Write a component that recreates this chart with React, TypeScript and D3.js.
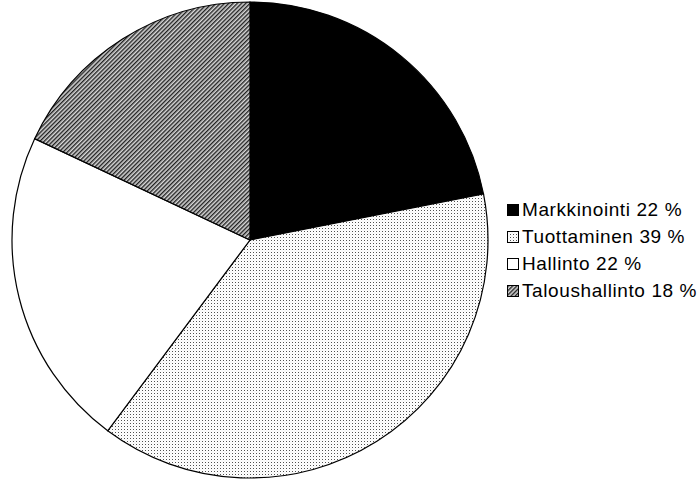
import React from "react";
import * as d3 from "d3";

const categories = ["Markkinointi", "Tuottaminen", "Hallinto", "Taloushallinto"];
const values = [21.9, 38.3, 21.8, 18.0];
const legendLabels = ["Markkinointi 22 %", "Tuottaminen 39 %", "Hallinto 22 %", "Taloushallinto 18 %"];
const fills = ["#000000", "url(#dots)", "#ffffff", "url(#hatch)"];

export default function App() {
  const width = 698;
  const height = 482;
  const cx = 250;
  const cy = 240;
  const r = 238;
  const data = categories.map((c, i) => ({ c, v: values[i], i }));
  const pie = d3.pie<any>().value((d) => d.v).sort(null);
  const arcs = pie(data);
  const arc = d3.arc<any>().innerRadius(0).outerRadius(r);
  const legendY = d3.scaleLinear().domain([0, 1]).range([216, 243]);
  return (
    <svg width={width} height={height} style={{ position: "absolute", left: 0, top: 0, background: "#fff" }}>
      <defs>
        <pattern id="dots" width="3" height="3" patternUnits="userSpaceOnUse">
          <rect width="3" height="3" fill="#ffffff" />
          <rect x="0" y="0" width="1" height="1" fill="#505050" />
          <rect x="1.5" y="1.5" width="1" height="1" fill="#e4e4e4" />
        </pattern>
        <pattern id="hatch" width="3" height="3" patternUnits="userSpaceOnUse" patternTransform="rotate(45)">
          <rect width="3" height="3" fill="#d8d8d8" />
          <rect x="0" y="0" width="1.4" height="3" fill="#222222" />
        </pattern>
      </defs>
      <g transform={`translate(${cx},${cy})`}>
        {arcs.map((a, i) => (
          <path key={i} d={arc(a) as string} fill={fills[i]} stroke="#000" strokeWidth={1.2} />
        ))}
      </g>
      {legendLabels.map((l, i) => {
        const y = legendY(i);
        return (
          <g key={i}>
            <rect x={507.5} y={y - 11.5} width={11} height={11} fill={fills[i]} stroke="#000" strokeWidth={1} />
            <text x={522} y={y} fontFamily="'Liberation Sans', Arial, sans-serif" fontSize={19} letterSpacing={0.6} fill="#000">
              {l}
            </text>
          </g>
        );
      })}
    </svg>
  );
}
